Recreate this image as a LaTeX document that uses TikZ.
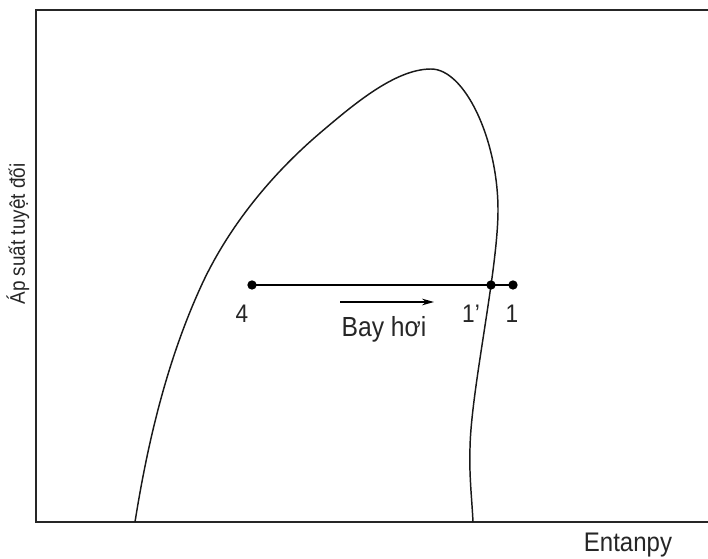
\documentclass[tikz,border=0pt]{standalone}
\usepackage{fontspec}
\setmainfont{Liberation Sans}
\usetikzlibrary{arrows.meta}
\newcommand{\vstretch}[1]{\scalebox{1}[1.12]{#1}}
\begin{document}
\begin{tikzpicture}[x=0.75pt,y=-0.75pt,
  frameline/.style={line width=1.3pt,draw=black!85},
  curveline/.style={line width=1.1pt,draw=black!90},
  statedot/.style={circle,fill=black,inner sep=0pt,minimum size=7pt},
  lbl/.style={inner sep=0pt,anchor=base,font=\fontsize{17}{19}\selectfont,text=black!85},
  axislbl/.style={inner sep=0pt,font=\fontsize{14.2}{16}\selectfont,text=black!85}]
\useasboundingbox (0,0) rectangle (708,559);
% frame
\coordinate (tr) at (708,10);
\coordinate (tl) at (36,10);
\coordinate (bl) at (36,522);
\coordinate (br) at (708,522);
\draw[frameline] (tr) -- (tl) -- (bl) -- (br);
% saturation dome
\coordinate (dl) at (135,522);
\coordinate (dm) at (203,282);
\coordinate (dn) at (320,133);
\coordinate (dt) at (431,69);
\coordinate (dr) at (498,210);
\coordinate (dk) at (470,448);
\coordinate (db) at (473,522);
\draw[curveline] (dl) .. controls (148,440) and (168,357) .. (dm)
  .. controls (230,225) and (272,174) .. (dn)
  .. controls (353,105) and (395,69) .. (dt)
  .. controls (465,69) and (498,140) .. (dr)
  .. controls (498,270) and (471,390) .. (dk)
  .. controls (469,475) and (472,500) .. (db);
% states
\node[statedot] (p4) at (252,285) {};
\node[statedot] (p1s) at (491,285) {};
\node[statedot] (p1) at (513,285) {};
\draw[line width=1.1pt] (p4.center) -- (p1s.center) -- (p1.center);
% labels
\node[lbl] (l4) at (242,323) {\vstretch{4}};
\node[lbl] (l1s) at (471,323) {\vstretch{1'}};
\node[lbl] (l1) at (512,323) {\vstretch{1}};
\node[lbl,font=\fontsize{18.5}{20}\selectfont] (lbay) at (384,337) {\vstretch{Bay hơi}};
\coordinate (as) at (340,302);
\coordinate (ae) at (434,302);
\draw[line width=1.1pt,-{Stealth[length=9pt,width=5pt]}] (as) -- (ae);
\node[lbl,font=\fontsize{18}{20}\selectfont] (lx) at (628,552) {\vstretch{Entanpy}};
\node[axislbl,rotate=90] (ly) at (18,234) {\vstretch{Áp suất tuyệt đối}};
\end{tikzpicture}
\end{document}
